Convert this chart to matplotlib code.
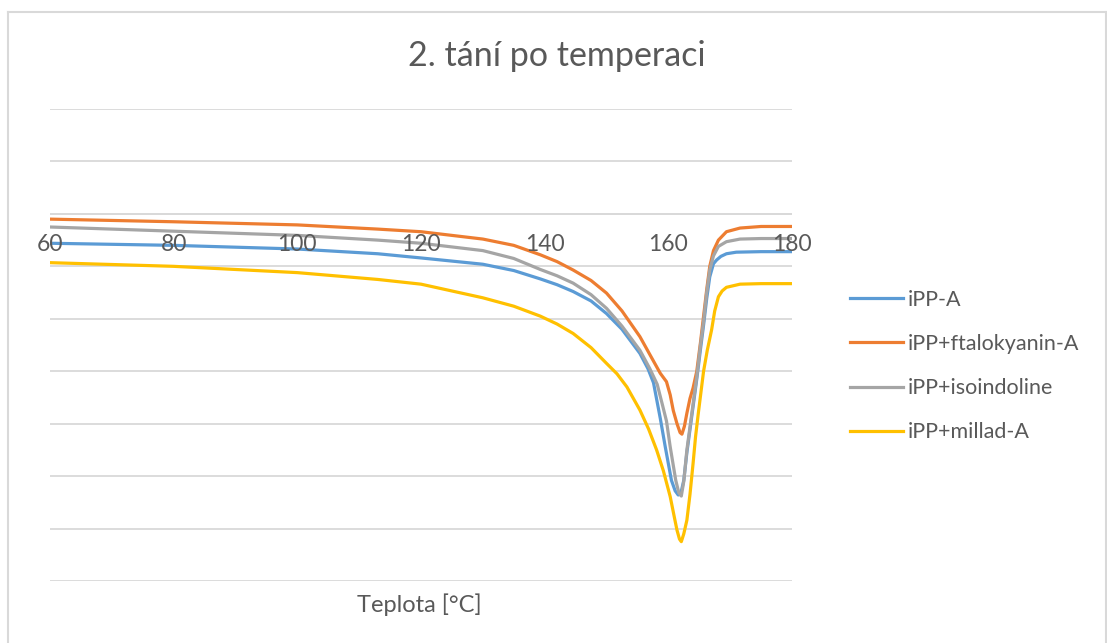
import matplotlib.pyplot as plt
from matplotlib.lines import Line2D

plt.rcParams['font.family'] = ['Lato', 'DejaVu Sans']

# teplota [°C] a tepelny tok
t_a = [60, 80, 100, 113, 120, 130, 135, 139.3, 142, 144.6, 147.5, 150, 152.5, 155.4,
       156.7, 157.6, 158.7, 159.5, 160.5, 161.1, 161.6, 162.0, 162.5, 163.0, 163.8,
       164.6, 165.2, 165.7, 166.2, 166.7, 167.3, 167.8, 168.5, 169.4, 171, 175, 180]
ipp_a = [-0.56, -0.60, -0.67, -0.76, -0.84, -0.96, -1.08, -1.24, -1.35, -1.48, -1.66,
         -1.90, -2.20, -2.66, -2.95, -3.22, -3.90, -4.44, -5.08, -5.28, -5.36, -5.34,
         -5.08, -4.55, -3.85, -3.15, -2.58, -2.12, -1.62, -1.20, -0.95, -0.88, -0.81,
         -0.76, -0.73, -0.72, -0.72]

t_ftalo = [60, 80, 100, 113, 120, 130, 135, 139.3, 142, 144.6, 147.5, 150, 152.5, 155.4,
           157, 158.7, 159.7, 160.3, 160.8, 161.4, 161.9, 162.2, 162.6, 163.0, 163.5,
           164.0, 164.6, 165.2, 165.7, 166.2, 166.7, 167.3, 168.1, 169.4, 171.6, 175, 180]
ipp_ftalo = [-0.10, -0.15, -0.21, -0.29, -0.34, -0.48, -0.60, -0.78, -0.91, -1.07, -1.27,
             -1.51, -1.85, -2.34, -2.68, -3.04, -3.20, -3.45, -3.75, -4.00, -4.17, -4.20,
             -4.05, -3.80, -3.52, -3.32, -3.00, -2.45, -1.95, -1.45, -1.00, -0.70, -0.50,
             -0.34, -0.27, -0.24, -0.24]

t_iso = [60, 80, 100, 113, 120, 130, 135, 139.3, 142, 144.6, 147.5, 150, 152.5, 155.4,
         157, 158.2, 159.0, 159.7, 160.3, 161.2, 161.7, 162.1, 162.5, 163.0, 163.8,
         164.6, 165.2, 165.7, 166.2, 166.7, 167.3, 168.1, 169.4, 171.6, 175, 180]
ipp_iso = [-0.25, -0.33, -0.41, -0.50, -0.56, -0.70, -0.85, -1.06, -1.18, -1.32, -1.54,
           -1.80, -2.14, -2.60, -2.95, -3.25, -3.62, -3.95, -4.44, -5.08, -5.32, -5.38,
           -5.10, -4.50, -3.80, -3.10, -2.50, -2.05, -1.50, -1.07, -0.80, -0.62, -0.53,
           -0.48, -0.47, -0.47]

t_millad = [60, 80, 100, 113, 120, 130, 135, 139.3, 142, 144.6, 147.5, 150, 151.7, 153.3,
            155.4, 156.8, 158.1, 159.2, 160.3, 161.0, 161.4, 161.8, 162.1, 162.5, 163.0,
            163.5, 164.0, 164.4, 164.85, 165.7, 166.3, 167.0, 167.5, 168.1, 168.7, 169.4,
            171.6, 175, 180]
ipp_millad = [-0.93, -1.00, -1.12, -1.25, -1.34, -1.60, -1.76, -1.95, -2.10, -2.28, -2.55,
              -2.85, -3.05, -3.30, -3.74, -4.10, -4.50, -4.90, -5.39, -5.80, -6.03, -6.20,
              -6.25, -6.10, -5.84, -5.35, -4.76, -4.25, -3.80, -3.00, -2.60, -2.21, -1.85,
              -1.58, -1.47, -1.40, -1.34, -1.33, -1.33]

nazvy = ["iPP-A", "iPP+ftalokyanin-A", "iPP+isoindoline", "iPP+millad-A"]
barvy = ["#5B9BD5", "#ED7D31", "#A5A5A5", "#FFC000"]
x_ticks = [60, 80, 100, 120, 140, 160, 180]

W, H = 1107, 643
fig = plt.figure(figsize=(W / 100, H / 100), dpi=100)
ax = fig.add_axes([50 / W, 1 - 581 / H, 742 / W, 472 / H])

serie = [(t_a, ipp_a), (t_ftalo, ipp_ftalo), (t_iso, ipp_iso), (t_millad, ipp_millad)]
for (t, y), c, n in zip(serie, barvy, nazvy):
    ax.plot(t, y, color=c, lw=2.3, label=n, solid_capstyle='round',
            solid_joinstyle='round', zorder=3)

ax.set_xlim(60, 180)
ax.set_ylim(-7, 2)
ax.set_yticks(range(-7, 3))
ax.yaxis.grid(True, color="#d9d9d9", lw=1.3)
ax.tick_params(axis='y', left=False, labelleft=False)
for s in ['top', 'right', 'left', 'bottom']:
    ax.spines[s].set_visible(False)
ax.axhline(0, color="#d9d9d9", lw=1.3, zorder=1)

ax.set_xticks(x_ticks)
ax.tick_params(axis='x', bottom=False, labelbottom=False)
for t in x_ticks:
    ax.annotate(str(t), xy=(t, 0), xytext=(0, -31), textcoords='offset pixels',
                ha='center', va='center', fontsize=16.5, color="#595959", zorder=5)

fig.text(419 / W, 1 - 605 / H, "Teplota [°C]", ha='center', va='center',
         fontsize=17, color="#595959")
fig.text(557 / W, 1 - 56 / H, "2. tání po temperaci", ha='center', va='center',
         fontsize=24.5, color="#595959")

handles = [Line2D([0], [0], color=c, lw=2.3) for c in barvy]
fig.legend(handles, nazvy, loc='center left', bbox_to_anchor=(850 / W, 1 - 366 / H),
           frameon=False, fontsize=15.5, labelcolor="#595959", borderpad=0,
           borderaxespad=0, handlelength=2.47, handletextpad=0.23, labelspacing=1.13)

# okraj grafu
for xs, ys in [([8, 1106], [12, 12]), ([8, 8], [12, 643]), ([1106, 1106], [12, 643])]:
    fig.add_artist(Line2D([x / W for x in xs], [1 - y / H for y in ys],
                          color="#d9d9d9", lw=1.5))

fig.savefig("out.png", dpi=100)
